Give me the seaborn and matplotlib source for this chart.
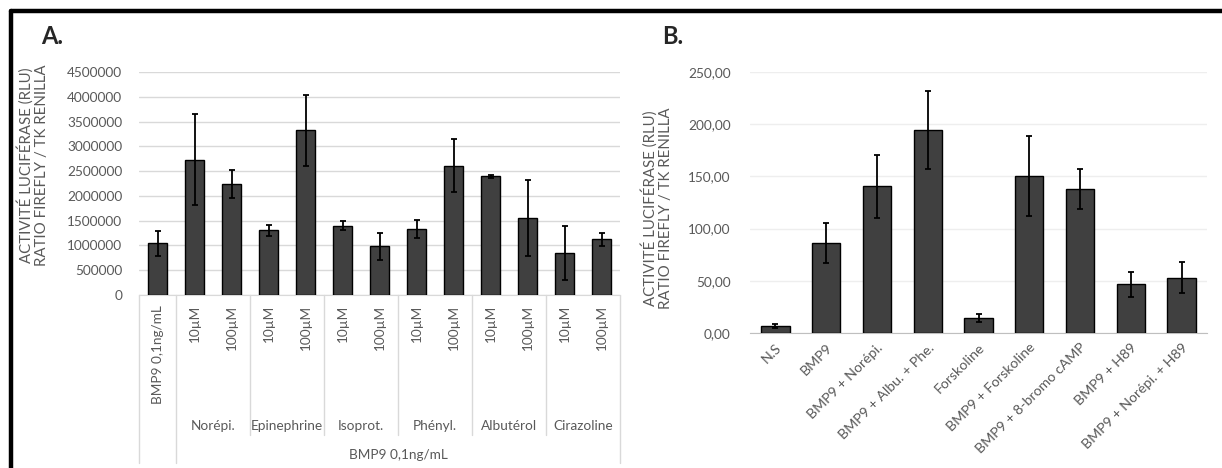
import numpy as np
import pandas as pd
import seaborn as sns
import matplotlib.pyplot as plt
import matplotlib.transforms as mtransforms
from matplotlib.lines import Line2D

# Panel A data
groups_a = ["Norépi.", "Epinephrine", "Isoprot.", "Phényl.", "Albutérol", "Cirazoline"]
doses_a = ["10µM", "100µM"]
ctrl_label = "BMP9 0,1ng/mL"
values_a = [1040000, 2730000, 2240000, 1310000, 3320000, 1400000, 980000,
            1340000, 2610000, 2400000, 1560000, 850000, 1120000]
errors_a = [250000, 920000, 280000, 110000, 710000, 90000, 280000,
            180000, 530000, 30000, 770000, 550000, 130000]
yticks_a = [0, 500000, 1000000, 1500000, 2000000, 2500000, 3000000, 3500000, 4000000, 4500000]

# Panel B data
labels_b = ["N.S", "BMP9", "BMP9 + Norépi.", "BMP9 + Albu. + Phe.", "Forskoline",
            "BMP9 + Forskoline", "BMP9 + 8-bromo cAMP", "BMP9 + H89", "BMP9 + Norépi. + H89"]
values_b = [7, 86.5, 140.5, 194.5, 14.5, 150.5, 138, 46.5, 53]
errors_b = [2, 19, 30, 37, 4, 38, 19, 12, 15]
yticks_b = [0, 50, 100, 150, 200, 250]

ylabel = "ACTIVITÉ LUCIFÉRASE (RLU)\nRATIO FIREFLY / TK RENILLA"

sns.set_style("white")
plt.rcParams['font.family'] = ['Lato', 'DejaVu Sans']
txt_col = "#595959"
grid_col = "#d9d9d9"
bar_col = "#404040"
fs = 9.8

W, H = 1222, 468
fig = plt.figure(figsize=(W / 100, H / 100), dpi=100)

def px_axes(left, top, right, bottom):
    return fig.add_axes([left / W, 1 - bottom / H, (right - left) / W, (bottom - top) / H])

# ---- Panel A ----
keys_a = [ctrl_label] + [f"{g} {d}" for g in groups_a for d in doses_a]
df_a = pd.DataFrame({"cond": keys_a, "val": values_a, "err": errors_a})
ax_a = px_axes(139, 72, 620, 295)
sns.barplot(data=df_a, x="cond", y="val", color=bar_col, saturation=1, width=0.54,
            edgecolor="black", linewidth=1, errorbar=None, ax=ax_a, zorder=3)
ax_a.errorbar(np.arange(len(values_a)), df_a["val"], yerr=df_a["err"], fmt="none",
              ecolor="black", elinewidth=1.3, capsize=2.5, capthick=1.3, zorder=4)
ax_a.set_ylim(0, 4500000)
ax_a.set_xlim(-0.5, len(values_a) - 0.5)
ax_a.set_yticks(yticks_a)
ax_a.set_yticklabels([str(v) for v in yticks_a], color=txt_col, fontsize=fs)
ax_a.yaxis.grid(True, color=grid_col, linewidth=1)
ax_a.set_axisbelow(True)
ax_a.set_xticks([])
ax_a.set_xlabel("")
ax_a.set_ylabel("")
ax_a.tick_params(axis="y", length=0, pad=12)
for s in ["left", "right", "top"]:
    ax_a.spines[s].set_visible(False)
ax_a.spines["bottom"].set_color(grid_col)

# multi-level category axis
trans = mtransforms.blended_transform_factory(ax_a.transData, ax_a.transAxes)
ah = 295 - 72
def yfrac(y_px):
    return (295 - y_px) / ah

for i, k in enumerate(keys_a):
    lab = ctrl_label if i == 0 else doses_a[(i - 1) % 2]
    ax_a.text(i, yfrac(305), lab, transform=trans, rotation=90, ha="center", va="top",
              color=txt_col, fontsize=fs)
for j, g in enumerate(groups_a):
    ax_a.text(1 + 2 * j + 0.5, yfrac(426), g, transform=trans, ha="center", va="center",
              color=txt_col, fontsize=fs)
ax_a.text((1 + len(keys_a) - 1) / 2, yfrac(455), ctrl_label, transform=trans, ha="center",
          va="center", color=txt_col, fontsize=fs)
for xb in [-0.5, 0.5, len(keys_a) - 0.5]:
    ax_a.add_line(Line2D([xb, xb], [0, yfrac(463)], transform=trans, color=grid_col,
                         linewidth=1, clip_on=False))
for j in range(1, len(groups_a)):
    xb = 0.5 + 2 * j
    ax_a.add_line(Line2D([xb, xb], [0, yfrac(435)], transform=trans, color=grid_col,
                         linewidth=1, clip_on=False))

# ---- Panel B ----
df_b = pd.DataFrame({"cond": labels_b, "val": values_b, "err": errors_b})
ax_b = px_axes(750, 72, 1207, 333)
sns.barplot(data=df_b, x="cond", y="val", color=bar_col, saturation=1, width=0.56,
            edgecolor="black", linewidth=1, errorbar=None, ax=ax_b, zorder=3)
ax_b.errorbar(np.arange(len(values_b)), df_b["val"], yerr=df_b["err"], fmt="none",
              ecolor="black", elinewidth=1.3, capsize=2.5, capthick=1.3, zorder=4)
ax_b.set_ylim(0, 250)
ax_b.set_xlim(-0.5, len(values_b) - 0.5)
ax_b.set_yticks(yticks_b)
ax_b.set_yticklabels([f"{v:.2f}".replace(".", ",") for v in yticks_b], color=txt_col, fontsize=fs)
ax_b.yaxis.grid(True, color="#eeeeee", linewidth=1)
ax_b.set_axisbelow(True)
ax_b.set_xlabel("")
ax_b.set_ylabel("")
ax_b.set_xticks(range(len(labels_b)))
ax_b.set_xticklabels(labels_b, rotation=45, ha="right", va="top", rotation_mode="anchor",
                     color=txt_col, fontsize=fs + 0.4)
ax_b.tick_params(axis="y", length=0, pad=14)
ax_b.tick_params(axis="x", length=0, pad=6)
for s in ["left", "right", "top"]:
    ax_b.spines[s].set_visible(False)
ax_b.spines["bottom"].set_color("#bfbfbf")

# axis titles and panel letters
fig.text(33 / W, 1 - 165 / H, ylabel, rotation=90, ha="center", va="center",
         color=txt_col, fontsize=10.8, multialignment="center", linespacing=1.1)
fig.text(657 / W, 1 - 208 / H, ylabel, rotation=90, ha="center", va="center",
         color=txt_col, fontsize=10.8, multialignment="center", linespacing=1.1)
fig.text(41 / W, 1 - 44 / H, "A.", fontsize=17, fontweight="bold", ha="left", va="baseline")
fig.text(662 / W, 1 - 44 / H, "B.", fontsize=17, fontweight="bold", ha="left", va="baseline")

# black frame (top and left edges)
fig.add_artist(Line2D([11 / W, 1], [1 - 11 / H, 1 - 11 / H], transform=fig.transFigure,
                      color="black", linewidth=3.2))
fig.add_artist(Line2D([11 / W, 11 / W], [0, 1 - 11 / H], transform=fig.transFigure,
                      color="black", linewidth=3.2))

fig.savefig("out.png", dpi=100)
